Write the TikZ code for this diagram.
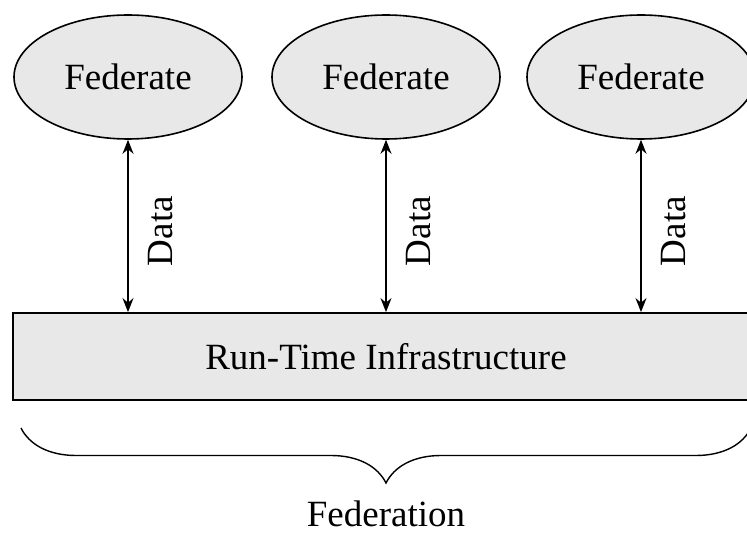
\documentclass[tikz,border=0pt]{standalone}
\usepackage{fontspec}
\setmainfont{Liberation Serif}
\usetikzlibrary{shapes.geometric}
\usetikzlibrary{arrows.meta}
\usetikzlibrary{decorations.pathreplacing}
\definecolor{boxgray}{HTML}{E8E8E8}

\begin{document}
\begin{tikzpicture}[
	x=1pt,
	y=-1pt,
	font=\fontsize{37}{42}\selectfont,
	federate/.style={
		ellipse,
		draw,
		fill=boxgray,
		line width=1.6pt,
		minimum width=228pt,
		minimum height=124pt,
		inner sep=0pt,
	},
	rtibox/.style={
		rectangle,
		draw,
		fill=boxgray,
		line width=1.8pt,
		minimum width=746pt,
		minimum height=87pt,
		inner sep=0pt,
	},
	dataflow/.style={
		{Stealth[length=14pt,width=11pt]}-{Stealth[length=14pt,width=11pt]},
		line width=1.4pt,
	},
	datalabel/.style={
		rotate=90,
		anchor=north,
		inner sep=0pt,
		yshift=-20pt,
	}
]
\clip (0,0) rectangle (747,534);

\node[federate] (F1) at (128,77) {Federate};
\node[federate] (F2) at (386,77) {Federate};
\node[federate] (F3) at (641,77) {Federate};

\node[rtibox] (RTI) at (386,356.5) {Run-Time Infrastructure};

% data links
\foreach \f in {F1,F2,F3}{
	\draw[dataflow] (\f.south) -- (\f.south |- RTI.north)
		node[datalabel, pos=0.53] {Data};
}

\coordinate (BL) at (21,428);
\coordinate (BR) at (751,428);
\draw[line width=1.4pt, decorate, decoration={brace, mirror, amplitude=55pt}] (BL) -- (BR);

\node[inner sep=0pt] (FED) at (386,514) {Federation};
\end{tikzpicture}
\end{document}
